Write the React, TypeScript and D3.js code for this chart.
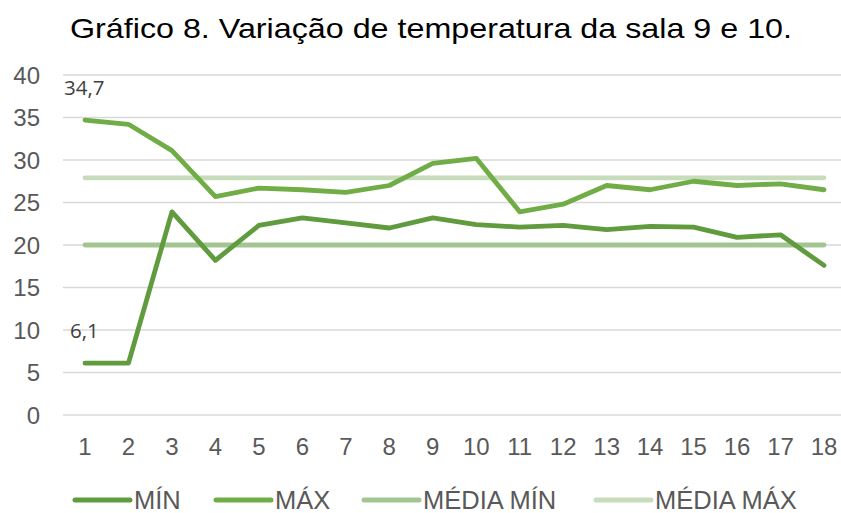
import React from 'react';
import * as d3 from 'd3';

const days = [1, 2, 3, 4, 5, 6, 7, 8, 9, 10, 11, 12, 13, 14, 15, 16, 17, 18];
const minTemp = [6.1, 6.1, 23.9, 18.2, 22.3, 23.2, 22.6, 22.0, 23.2, 22.4, 22.1, 22.3, 21.8, 22.2, 22.1, 20.9, 21.2, 17.6];
const maxTemp = [34.7, 34.2, 31.1, 25.7, 26.7, 26.5, 26.2, 27.0, 29.6, 30.2, 23.9, 24.8, 27.0, 26.5, 27.5, 27.0, 27.2, 26.5];
const mediaMin = 20.0;
const mediaMax = 27.9;
const yTicks = [0, 5, 10, 15, 20, 25, 30, 35, 40];

const series = [
  { name: 'MÍN', color: '#609b3d', values: minTemp },
  { name: 'MÁX', color: '#70ad47', values: maxTemp },
  { name: 'MÉDIA MÍN', color: '#a2c592', values: days.map(() => mediaMin) },
  { name: 'MÉDIA MÁX', color: '#c6dcbb', values: days.map(() => mediaMax) },
];

const legendX = [75, 216, 364, 596];

const W = 841;
const H = 513;

const App = () => {
  const x = d3.scalePoint<number>().domain(days).range([85, 824]);
  const y = d3.scaleLinear().domain([0, 40]).range([415, 75]);

  const line = d3.line<number>()
    .x((_, i) => x(days[i]) as number)
    .y(d => y(d));

  // draw averages first so the min/max lines sit on top
  const drawOrder = [3, 2, 1, 0];

  return (
    <svg width={W} height={H} style={{ position: 'absolute', left: 0, top: 0 }}>
      <rect width={W} height={H} fill="#ffffff" />
      <text x={70} y={38} textLength={722} lengthAdjust="spacingAndGlyphs"
        fontFamily="Liberation Sans, Arial" fontSize={28.5} fill="#000">
        Gráfico 8. Variação de temperatura da sala 9 e 10.
      </text>

      {yTicks.map(t => (
        <g key={t}>
          <line x1={63} x2={W} y1={y(t)} y2={y(t)} stroke="#d9d9d9" strokeWidth={1.5} />
          <text x={40} y={y(t) + 8.5} textAnchor="end" fontFamily="Liberation Sans, Arial" fontSize={24} fill="#595959">
            {t}
          </text>
        </g>
      ))}

      {days.map(d => (
        <text key={d} x={x(d)} y={455} textAnchor="middle" fontFamily="Liberation Sans, Arial" fontSize={24} fill="#595959">
          {d}
        </text>
      ))}

      {drawOrder.map(i => (
        <path key={series[i].name} d={line(series[i].values) || ''} fill="none"
          stroke={series[i].color} strokeWidth={4.8} strokeLinecap="round" strokeLinejoin="round" />
      ))}

      <text x={64} y={95} fontFamily="Open Sans, Noto Sans" fontSize={20.5} fill="#404040">
        {String(maxTemp[0]).replace('.', ',')}
      </text>
      <text x={70} y={338} fontFamily="Open Sans, Noto Sans" fontSize={20.5} fill="#404040">
        {String(minTemp[0]).replace('.', ',')}
      </text>

      {series.map((s, i) => (
        <g key={s.name} transform={`translate(${legendX[i]},0)`}>
          <line x1={0} x2={55} y1={500} y2={500} stroke={s.color} strokeWidth={5} strokeLinecap="round" />
          <text x={59} y={509} fontFamily="Liberation Sans, Arial" fontSize={25.5} fill="#595959">
            {s.name}
          </text>
        </g>
      ))}
    </svg>
  );
};

export default App;
